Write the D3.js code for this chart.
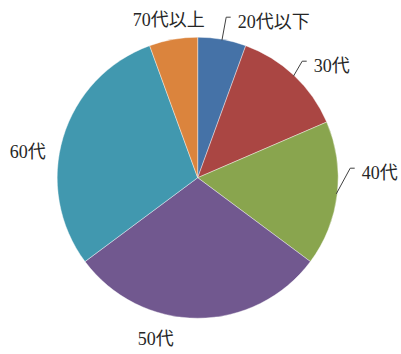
<!DOCTYPE html>
<html>
<head>
<meta charset="utf-8">
<script src="https://cdn.jsdelivr.net/npm/d3@7"></script>
<style>
  html, body { margin: 0; padding: 0; background: #fff; }
  svg { display: block; }
  text { font-family: "Liberation Serif", "Noto Sans CJK JP", serif; font-size: 18px; fill: #262626; }
</style>
</head>
<body>
<svg id="chart" width="401" height="354"></svg>
<script>
// Age groups and respondent counts
const categories = ["20代以下", "30代", "40代", "50代", "60代", "70代以上"];
const counts = [3, 7, 9, 16, 16, 3];
const colors = ["#4572A7", "#AA4643", "#89A54E", "#71588F", "#4198AF", "#DB843D"];

// Label anchor (text start, baseline) relative to the pie centre, and whether a leader line is drawn
const labelLayout = [
  { dx: 40,   dy: -150, leader: true },
  { dx: 116,  dy: -106, leader: true },
  { dx: 164,  dy: 1,    leader: true },
  { dx: -60,  dy: 167,  leader: false },
  { dx: -188, dy: -20,  leader: false },
  { dx: -65,  dy: -152, leader: false }
];

const cx = 197.7, cy = 177.7, radius = 140.5;
const svg = d3.select("#chart");
const g = svg.append("g").attr("transform", `translate(${cx},${cy})`);

const pie = d3.pie().sort(null).value(d => d.value);
const arcs = pie(categories.map((c, i) => ({ name: c, value: counts[i] })));
const arc = d3.arc().innerRadius(0).outerRadius(radius);

g.selectAll("path.slice")
  .data(arcs)
  .join("path")
  .attr("class", "slice")
  .attr("d", arc)
  .attr("fill", (d, i) => colors[i])
  .attr("stroke", "#fff")
  .attr("stroke-width", 0.4);

// Leader lines: from the slice's outer edge at mid-angle, up to an elbow, then a short horizontal tick
arcs.forEach((d, i) => {
  const L = labelLayout[i];
  if (!L.leader) return;
  const mid = (d.startAngle + d.endAngle) / 2;
  const sx = Math.sin(mid) * (radius - 1), sy = -Math.cos(mid) * (radius - 1);
  const ex = L.dx - 11.5, ey = L.dy - 10.5;
  g.append("path")
    .attr("d", d3.line()([[sx, sy], [ex, ey], [L.dx - 7, ey]]))
    .attr("fill", "none")
    .attr("stroke", "#404040")
    .attr("stroke-width", 1);
});

g.selectAll("text.label")
  .data(arcs)
  .join("text")
  .attr("class", "label")
  .attr("x", (d, i) => labelLayout[i].dx)
  .attr("y", (d, i) => labelLayout[i].dy)
  .text(d => d.data.name);
</script>
</body>
</html>
